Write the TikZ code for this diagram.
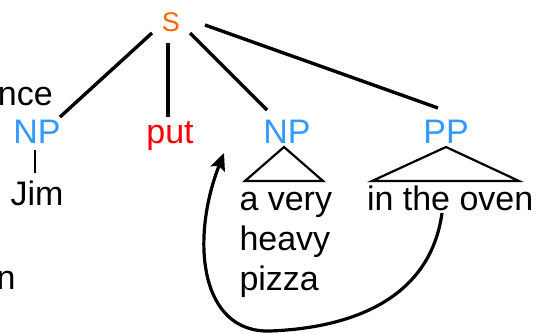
\documentclass[tikz,border=0pt]{standalone}
\usepackage{fontspec}
\setmainfont{Liberation Sans}
\usetikzlibrary{arrows.meta}
\definecolor{sorange}{RGB}{255,102,0}
\definecolor{npblue}{RGB}{51,153,255}
\definecolor{putred}{RGB}{255,0,0}
\begin{document}
\begin{tikzpicture}[x=1pt,y=-1pt,
  lbl/.style={inner sep=0pt, outer sep=0pt, font=\fontsize{34}{40}\selectfont},
  cat/.style={lbl, text=npblue},
  branch/.style={line width=3.4pt},
  roof/.style={line width=2.2pt, line join=miter},
  move/.style={line width=3.2pt, -{Stealth[length=17pt,width=15pt,inset=3pt]}}]
\useasboundingbox (0,0) rectangle (538,333);
% labels
\node[lbl, anchor=base, font=\fontsize{27}{30}\selectfont, text=sorange] (S) at (171,31) {S};
\node[lbl, anchor=base west] (nce) at (-2,105) {nce};
\node[cat, anchor=base] (NP1) at (37,143) {NP};
\node[lbl, anchor=base, text=putred] (put) at (170,143) {put};
\node[cat, anchor=base] (NP2) at (287,143) {NP};
\node[cat, anchor=base] (PP) at (446,143) {PP};
\node[lbl, anchor=base] (Jim) at (37,205) {Jim};
\node[lbl, anchor=base west, align=left] (pizza) at (239.5,290) {a very\\heavy\\pizza};
\node[lbl, anchor=base west] (oven) at (367,210) {in the oven};
\node[lbl, anchor=base east] (n) at (15.5,289) {n};
\coordinate (gap) at (224,153);
% branches
\draw[branch] ([shift={(-19,2)}]S.base) -- ([shift={(23,-26)}]NP1.base);
\draw[branch] ([shift={(-3,12)}]S.base) -- ([shift={(-2,-26)}]put.base);
\draw[branch] ([shift={(19,2)}]S.base) -- ([shift={(-20,-33)}]NP2.base);
\draw[branch] ([shift={(34,-6)}]S.base) -- ([shift={(-8,-35)}]PP.base);
\draw[line width=2.8pt] ([shift={(-2,7)}]NP1.base) -- ([shift={(-2,-32)}]Jim.base);
% roofs
\draw[roof] ([shift={(-3,4)}]NP2.base) -- ++(-39,34) -- ++(78,0) -- cycle;
\draw[roof] ([shift={(0,4)}]PP.base) -- ++(-74,34) -- ++(147,0) -- cycle;
% movement arrow
\draw[move] ([shift={(75,3)}]oven.base west) .. controls (430,300) and (350,328) .. (270,331)
  .. controls (200,333) and (190,240) .. (gap);
\end{tikzpicture}
\end{document}
